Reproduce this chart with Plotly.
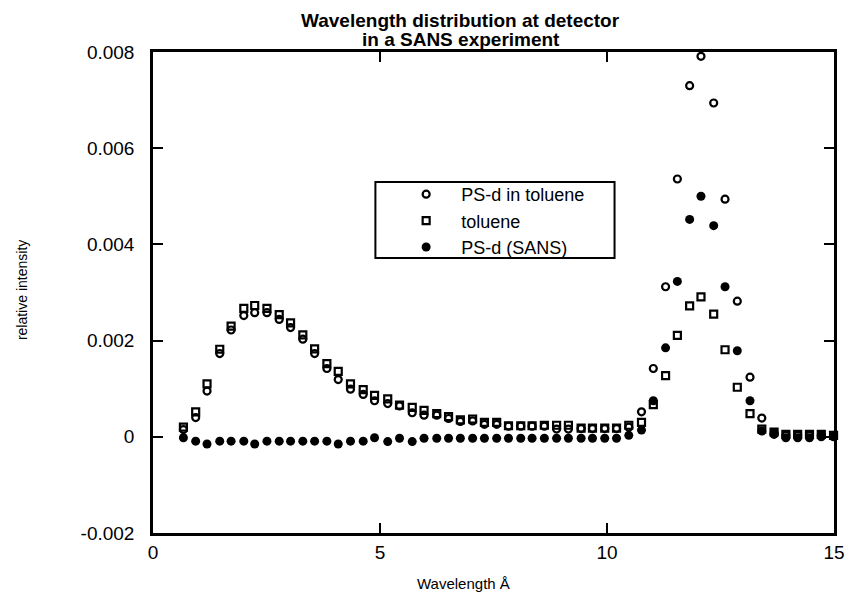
import plotly.graph_objects as go

wavelength = [0.67, 0.94, 1.19, 1.47, 1.72, 2.00, 2.24, 2.51, 2.78, 3.03,
              3.30, 3.56, 3.83, 4.08, 4.35, 4.63, 4.88, 5.17, 5.43, 5.71,
              5.97, 6.25, 6.51, 6.77, 7.04, 7.30, 7.57, 7.83, 8.10, 8.35,
              8.62, 8.89, 9.15, 9.43, 9.68, 9.95, 10.21, 10.48, 10.76, 11.02,
              11.29, 11.55, 11.82, 12.07, 12.35, 12.60, 12.87, 13.15, 13.41, 13.68,
              13.94, 14.20, 14.46, 14.72, 14.99]

psd_in_toluene = [0.00015, 0.00040, 0.00095, 0.00173, 0.00222, 0.00252, 0.00258, 0.00258, 0.00244, 0.00227,
                  0.00203, 0.00173, 0.00142, 0.00119, 0.00099, 0.00088, 0.00075, 0.00069, 0.00064, 0.00050,
                  0.00045, 0.00045, 0.00038, 0.00032, 0.00033, 0.00026, 0.00026, 0.00022, 0.00022, 0.00022,
                  0.00022, 0.00016, 0.00016, 0.00017, 0.00017, 0.00017, 0.00017, 0.00020, 0.00052, 0.00142,
                  0.00312, 0.00536, 0.00730, 0.00791, 0.00694, 0.00494, 0.00282, 0.00124, 0.00039, 0.00008,
                  0.00003, 0.00003, 0.00003, 0.00003, 0.00002]

toluene = [0.00020, 0.00052, 0.00110, 0.00182, 0.00230, 0.00267, 0.00273, 0.00267, 0.00254, 0.00237,
           0.00212, 0.00183, 0.00152, 0.00136, 0.00110, 0.00098, 0.00086, 0.00079, 0.00066, 0.00061,
           0.00055, 0.00048, 0.00042, 0.00035, 0.00037, 0.00030, 0.00030, 0.00023, 0.00023, 0.00023,
           0.00024, 0.00024, 0.00024, 0.00018, 0.00018, 0.00018, 0.00018, 0.00024, 0.00030, 0.00067,
           0.00127, 0.00211, 0.00272, 0.00291, 0.00255, 0.00181, 0.00103, 0.00048, 0.00016, 0.00010,
           0.00005, 0.00005, 0.00005, 0.00005, 0.00003]

psd_sans = [-0.00002, -0.00009, -0.00015, -0.00009, -0.00009, -0.00009, -0.00015, -0.00009, -0.00009, -0.00009,
            -0.00009, -0.00009, -0.00009, -0.00015, -0.00009, -0.00009, -0.00002, -0.00010, -0.00003, -0.00010,
            -0.00003, -0.00003, -0.00003, -0.00003, -0.00003, -0.00003, -0.00003, -0.00003, -0.00003, -0.00003,
            -0.00003, -0.00003, -0.00003, -0.00003, -0.00003, -0.00003, -0.00003, 0.00003, 0.00014, 0.00075,
            0.00185, 0.00323, 0.00452, 0.00500, 0.00439, 0.00312, 0.00179, 0.00075, 0.00012, 0.00005,
            -0.00002, -0.00002, -0.00002, 0.00000, 0.00000]

series_names = ["PS-d in toluene", "toluene", "PS-d (SANS)"]
x_tickvals = [0, 5, 10, 15]
x_ticktext = ["0", "5", "10", "15"]
y_tickvals = [-0.002, 0, 0.002, 0.004, 0.006, 0.008]
y_ticktext = ["-0.002", "0", "0.002", "0.004", "0.006", "0.008"]

FONT = "Liberation Sans, Arial, sans-serif"

# plot area in pixels: x 153..845, y 52..533
L, R, T, B = 153, 845, 52, 533
W, H = R - L, B - T


def px(xp):
    return (xp - L) / W


def py(yp):
    return (B - yp) / H


fig = go.Figure()
fig.add_trace(go.Scatter(x=wavelength, y=psd_in_toluene, mode="markers", name=series_names[0],
                         marker=dict(symbol="circle-open", size=7, color="black", line=dict(width=2.2, color="black")),
                         cliponaxis=False))
fig.add_trace(go.Scatter(x=wavelength, y=toluene, mode="markers", name=series_names[1],
                         marker=dict(symbol="square-open", size=7, color="black", line=dict(width=2.2, color="black")),
                         cliponaxis=False))
fig.add_trace(go.Scatter(x=wavelength, y=psd_sans, mode="markers", name=series_names[2],
                         marker=dict(symbol="circle", size=9, color="black", line=dict(width=0)),
                         cliponaxis=False))

axis_common = dict(showline=True, linewidth=2.5, linecolor="black", mirror="ticks",
                   ticks="inside", ticklen=10, tickwidth=2, tickcolor="black",
                   showgrid=False, zeroline=False,
                   tickfont=dict(family=FONT, size=19, color="black"))

fig.update_xaxes(range=[0, 15], tickvals=x_tickvals, ticktext=x_ticktext,
                 ticklabelstandoff=0, **axis_common)
fig.update_yaxes(range=[-0.002, 0.008], tickvals=y_tickvals, ticktext=y_ticktext,
                 ticklabelstandoff=12, **axis_common)

fig.update_layout(
    width=855, height=601,
    margin=dict(l=L, r=855 - R, t=T, b=601 - B),
    paper_bgcolor="white", plot_bgcolor="white",
    font=dict(family=FONT, color="black"),
    showlegend=True,
    legend=dict(x=px(395), y=py(176), xanchor="left", yanchor="top",
                borderwidth=0, bgcolor="rgba(0,0,0,0)",
                font=dict(family=FONT, size=18, color="black"),
                itemwidth=60, tracegroupgap=0, itemsizing="trace"),
    shapes=[
        dict(type="rect", xref="paper", yref="paper",
             x0=px(379), x1=px(622), y0=py(258), y1=py(182),
             line=dict(color="black", width=2), fillcolor="white", layer="below"),
    ],
    annotations=[
        dict(text="<b>Wavelength distribution at detector</b>",
             xref="paper", yref="paper", x=px(465), y=py(20),
             xanchor="center", yanchor="middle", showarrow=False,
             font=dict(family=FONT, size=19, color="black")),
        dict(text="<b>in a SANS experiment</b>",
             xref="paper", yref="paper", x=px(466), y=py(39),
             xanchor="center", yanchor="middle", showarrow=False,
             font=dict(family=FONT, size=19, color="black")),
        dict(text="Wavelength Å", xref="paper", yref="paper", x=px(469), y=py(583),
             xanchor="center", yanchor="middle", showarrow=False,
             font=dict(family=FONT, size=15, color="black")),
        dict(text="relative intensity", xref="paper", yref="paper", x=px(20), y=py(290),
             xanchor="center", yanchor="middle", textangle=-90, showarrow=False,
             font=dict(family=FONT, size=14, color="black")),
    ],
)

fig.write_html("out.html")
